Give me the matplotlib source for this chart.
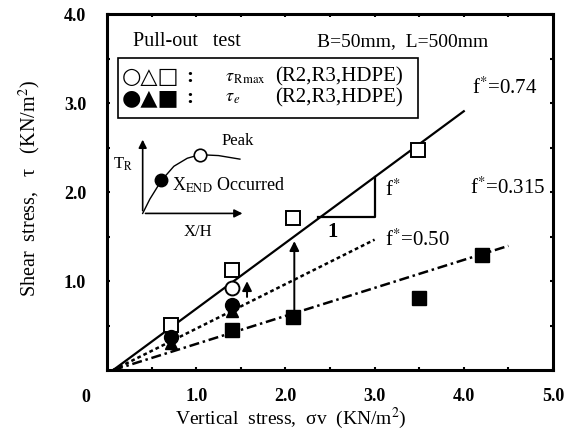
import numpy as np
import matplotlib
matplotlib.use('Agg')
import matplotlib.pyplot as plt
from matplotlib.patches import Rectangle

plt.rcParams['font.family'] = ['Liberation Serif', 'DejaVu Serif']
plt.rcParams['mathtext.fontset'] = 'stix'

# tau_Rmax (open) and tau_e (filled) points
sv_sq_open = [0.72, 1.40, 2.09, 3.49]
tau_sq_open = [0.51, 1.12, 1.71, 2.47]
sv_circ_open = [1.40]
tau_circ_open = [0.92]
sv_circ_fill = [0.72, 1.40]
tau_circ_fill = [0.37, 0.73]
sv_tri_fill = [0.72, 1.40]
tau_tri_fill = [0.30, 0.66]
sv_sq_fill = [1.40, 2.09, 3.50, 4.20]
tau_sq_fill = [0.45, 0.60, 0.81, 1.29]

# friction lines f*
f_values = [0.74, 0.50, 0.315]
f_x_end = [4.0, 3.0, 4.5]
f_styles = ['-', (0, (1.5, 1.2)), (0, (4, 1.5, 1, 1.5))]
x_origin = 0.07

# arrows from tau_e up to tau_Rmax
arrow_x = [1.57, 2.10]
arrow_from = [0.79, 0.64]
arrow_to = [1.03, 1.48]

# schematic inset curve (tau_R vs X/H)
inset_x = [0.40, 0.48, 0.61, 0.75, 0.90, 1.04, 1.25, 1.49]
inset_y = [1.76, 1.92, 2.13, 2.29, 2.38, 2.42, 2.41, 2.37]

fig = plt.figure(figsize=(5.64, 4.40), dpi=100)
ax = fig.add_axes([0.1897, 0.159, 0.7908, 0.809])
ax.set_xlim(0, 5)
ax.set_ylim(0, 4)

for f, xe, ls in zip(f_values, f_x_end, f_styles):
    xs = np.array([x_origin, xe])
    ax.plot(xs, f * (xs - x_origin), color='black', lw=1.6 if ls == '-' else 1.8, linestyle=ls)

ms = 10
ax.plot(sv_sq_open, tau_sq_open, 's', ms=ms, mfc='white', mec='black', mew=1.4)
ax.plot(sv_circ_open, tau_circ_open, 'o', ms=ms, mfc='white', mec='black', mew=1.4)
ax.plot(sv_tri_fill, tau_tri_fill, '^', ms=8, color='black')
ax.plot(sv_circ_fill, tau_circ_fill, 'o', ms=ms, color='black')
ax.plot(sv_sq_fill, tau_sq_fill, 's', ms=ms, color='black')

for x, y0, y1 in zip(arrow_x, arrow_from, arrow_to):
    ax.annotate('', xy=(x, y1), xytext=(x, y0),
                arrowprops=dict(arrowstyle='-|>', color='black', lw=1.4, mutation_scale=14))

# slope triangle
ax.plot([2.36, 3.0, 3.0], [1.72, 1.72, 2.17], color='black', lw=1.6)
ax.text(3.12, 2.02, 'f$^{*}$', fontsize=15, va='center')
ax.text(2.53, 1.55, '1', fontsize=15, va='center', ha='center', fontweight='bold')

# line labels
ax.text(4.09, 3.17, 'f$^{*}$=0.74', fontsize=15, va='center')
ax.text(3.12, 1.46, 'f$^{*}$=0.50', fontsize=15, va='center')
ax.text(4.07, 2.04, 'f$^{*}$=0.315', fontsize=15, va='center')

# header and legend box
ax.text(0.29, 3.69, 'Pull-out   test', fontsize=14.5, va='center')
ax.text(2.35, 3.69, 'B=50mm,  L=500mm', fontsize=14, va='center')
ax.add_patch(Rectangle((0.12, 2.83), 3.37, 0.68, fill=False, ec='black', lw=1.2))
ax.text(0.17, 3.29, '○△□', fontsize=16, va='center', family='DejaVu Sans')
ax.text(0.17, 3.06, '●▲■', fontsize=16, va='center', family='DejaVu Sans')
ax.text(0.93, 3.29, ':', fontsize=15, va='center', ha='center', fontweight='bold')
ax.text(0.93, 3.06, ':', fontsize=15, va='center', ha='center', fontweight='bold')
ax.text(1.32, 3.29, r'$\tau_{\,\mathrm{Rmax}}$', fontsize=13, va='center')
ax.text(1.32, 3.06, r'$\tau_{\,e}$', fontsize=13, va='center')
ax.text(1.88, 3.29, '(R2,R3,HDPE)', fontsize=15, va='center')
ax.text(1.88, 3.06, '(R2,R3,HDPE)', fontsize=15, va='center')

# inset schematic
ax.annotate('', xy=(0.40, 2.62), xytext=(0.40, 1.76),
            arrowprops=dict(arrowstyle='-|>', color='black', lw=1.2, mutation_scale=12))
ax.annotate('', xy=(1.55, 1.76), xytext=(0.40, 1.76),
            arrowprops=dict(arrowstyle='-|>', color='black', lw=1.2, mutation_scale=12))
ax.plot(inset_x, inset_y, color='black', lw=1.0)
ax.plot(inset_x[2], inset_y[2], 'o', ms=9, color='black')
ax.plot(inset_x[5], inset_y[5], 'o', ms=9, mfc='white', mec='black', mew=1.2)
ax.text(0.18, 2.31, 'T$_\\mathrm{R}$', fontsize=12, va='center', ha='center')
ax.text(1.28, 2.57, 'Peak', fontsize=12, va='center')
ax.text(0.73, 2.08, 'X$_{\\mathrm{END}}$ Occurred', fontsize=13, va='center')
ax.text(1.02, 1.55, 'X/H', fontsize=12, va='center', ha='center')

# axes styling
for s in ax.spines.values():
    s.set_linewidth(2.2)
ax.set_xticks([1, 2, 3, 4, 5])
ax.set_xticklabels(['1.0', '2.0', '3.0', '4.0', '5.0'])
ax.set_yticks([1, 2, 3, 4])
ax.set_yticklabels(['1.0', '2.0', '3.0', '4.0'])
ax.set_xticks(np.arange(0.5, 5, 0.5), minor=True)
ax.set_yticks(np.arange(0.5, 4, 0.5), minor=True)
ax.tick_params(which='both', direction='in', length=2, width=1.5, top=True, right=True)
ax.tick_params(axis='x', which='major', pad=13, labelsize=13)
ax.tick_params(axis='y', which='major', pad=15, labelsize=13)
for lbl in ax.get_xticklabels() + ax.get_yticklabels():
    lbl.set_fontweight('bold')
ax.annotate('0', xy=(0, 0), xytext=(-15, -20), textcoords='offset points',
            fontsize=13, ha='center', va='center', fontweight='bold')

fig.text(291 / 564, 1 - 418 / 440, 'Vertical  stress,  σv  (KN/m$^2$)',
         fontsize=14, ha='center', va='center')
fig.text(30 / 564, 1 - 189 / 440, 'Shear  stress,   τ   (KN/m$^2$)',
         fontsize=14.5, ha='center', va='center', rotation=90)

fig.savefig('out.png', dpi=100)
